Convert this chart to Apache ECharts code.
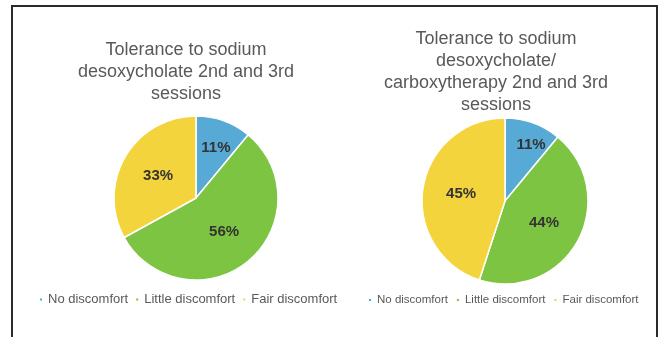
<!DOCTYPE html>
<html>
<head>
<meta charset="utf-8">
<script src="https://cdn.jsdelivr.net/npm/echarts@6/dist/echarts.min.js"></script>
<style>
  html, body { margin: 0; padding: 0; background: #ffffff; }
  #chart { width: 662px; height: 337px; }
</style>
</head>
<body>
<div id="chart"></div>
<script>
// Tolerance categories shared by both pies
const categories = ['No discomfort', 'Little discomfort', 'Fair discomfort'];
// Percent of patients, sodium desoxycholate alone
const valuesDeso = [11, 56, 33];
// Percent of patients, sodium desoxycholate + carboxytherapy
const valuesCarboxy = [11, 44, 45];

const titleDeso = 'Tolerance to sodium\ndesoxycholate 2nd and 3rd\nsessions';
const titleCarboxy = 'Tolerance to sodium\ndesoxycholate/\ncarboxytherapy 2nd and 3rd\nsessions';

const colors = ['#58AAD6', '#7DC443', '#F3D43C'];
const fontFamily = '"Liberation Sans", Arial, Helvetica, sans-serif';

// The small first slice keeps its label nearer the rim
function buildData(values, firstOffset) {
  return values.map((v, i) => {
    const item = { name: categories[i], value: v };
    if (i === 0) item.label = { offset: firstOffset };
    return item;
  });
}

function pieSeries(values, center, radius, firstOffset) {
  return {
    type: 'pie',
    center: center,
    radius: radius,
    startAngle: 90,
    clockwise: true,
    silent: true,
    animation: false,
    itemStyle: { borderColor: '#ffffff', borderWidth: 1.5 },
    label: {
      show: true,
      position: 'inside',
      formatter: '{c}%',
      color: '#333333',
      fontSize: 15,
      fontWeight: 'bold',
      fontFamily: fontFamily
    },
    labelLine: { show: false },
    data: buildData(values, firstOffset)
  };
}

const chart = echarts.init(document.getElementById('chart'), null, { renderer: 'canvas' });

function legendAt(left, top, fontSize, gap) {
  return {
    data: categories, orient: 'horizontal', width: 320,
    left: left, top: top,
    icon: 'rect', itemWidth: 4, itemHeight: 4, itemGap: gap,
    textStyle: { color: '#595959', fontSize: fontSize, fontFamily: fontFamily },
    selectedMode: false
  };
}

chart.setOption({
  color: colors,
  backgroundColor: '#ffffff',
  title: [
    {
      text: titleDeso,
      left: 181, top: 34, textAlign: 'center',
      textStyle: { color: '#595959', fontSize: 18, fontWeight: 'normal', lineHeight: 22, fontFamily: fontFamily }
    },
    {
      text: titleCarboxy,
      left: 491, top: 23, textAlign: 'center',
      textStyle: { color: '#595959', fontSize: 18, fontWeight: 'normal', lineHeight: 22, fontFamily: fontFamily }
    }
  ],
  legend: [
    legendAt(33, 288, 13, 6),
    legendAt(362, 289, 11.5, 7)
  ],
  series: [
    pieSeries(valuesDeso, [196, 198], 82, [5, -9]),
    pieSeries(valuesCarboxy, [505, 201], 83, [11, -14])
  ],
  graphic: [
    {
      type: 'polyline',
      shape: { points: [[12, 340], [12, 6], [657, 6], [657, 340]] },
      style: { stroke: '#2a2a2a', lineWidth: 2, fill: null },
      silent: true
    }
  ]
});
</script>
</body>
</html>
